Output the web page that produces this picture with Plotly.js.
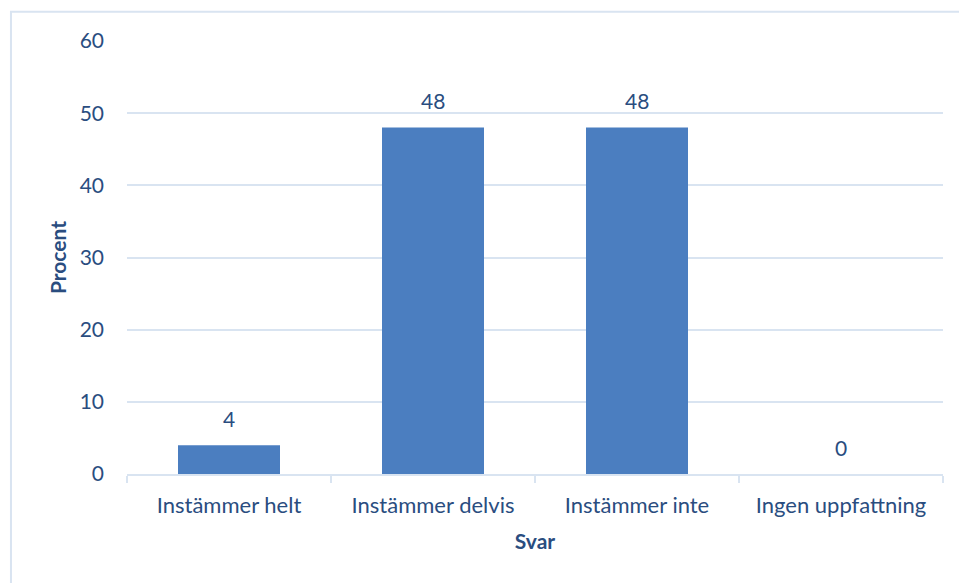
<!DOCTYPE html>
<html>
<head>
<meta charset="utf-8">
<script src="https://cdn.plot.ly/plotly-3.0.1.min.js"></script>
<style>
  html, body { margin: 0; padding: 0; background: #ffffff; }
  #chart { width: 959px; height: 583px; }
</style>
</head>
<body>
<div id="chart"></div>
<script>
const categories = ["Instämmer helt", "Instämmer delvis", "Instämmer inte", "Ingen uppfattning"];
const values = [4, 48, 48, 0];
const yTicks = [0, 10, 20, 30, 40, 50, 60];
const xTitle = "Svar";
const yTitle = "Procent";

const textColor = "#2a4d7f";
const gridColor = "#d9e4f1";
const fontFamily = "Lato, 'Noto Sans', sans-serif";
const fs = 21;
const fsCat = 22;

const trace = {
  type: "bar",
  x: categories,
  y: values,
  marker: { color: "#4b7ec0", line: { width: 0 } },
  hoverinfo: "x+y"
};

const annotations = categories.map((c, i) => ({
  x: c, y: values[i], xref: "x", yref: "y",
  text: String(values[i]), showarrow: false,
  yanchor: "middle", yshift: 27,
  font: { family: fontFamily, size: fs, color: textColor }
}));

const layout = {
  width: 959, height: 583,
  margin: { l: 127, r: 16, t: 41, b: 109 },
  paper_bgcolor: "#ffffff",
  plot_bgcolor: "#ffffff",
  bargap: 0.5,
  showlegend: false,
  font: { family: fontFamily, size: fs, color: textColor },
  xaxis: {
    type: "category",
    tickson: "boundaries",
    ticks: "outside", ticklen: 7, tickcolor: gridColor, tickwidth: 2,
    showline: true, linecolor: gridColor, linewidth: 2,
    showgrid: false, zeroline: false,
    ticklabelstandoff: 11,
    tickfont: { family: fontFamily, size: fsCat, color: textColor },
    title: { text: xTitle, standoff: 17, font: { family: fontFamily, size: fs, color: textColor, weight: "bold" } }
  },
  yaxis: {
    range: [0, 60],
    tickvals: yTicks,
    ticktext: yTicks.map(String),
    showgrid: true, gridcolor: gridColor, gridwidth: 2,
    zeroline: false, showline: false,
    ticks: "",
    ticklabelstandoff: 22,
    tickfont: { family: fontFamily, size: fs, color: textColor },
    title: { text: yTitle, standoff: 7, font: { family: fontFamily, size: fs, color: textColor, weight: "bold" } }
  },
  annotations: annotations,
  shapes: [{
    type: "rect", xref: "paper", yref: "paper",
    x0: -0.1422, x1: 1.1, y0: -0.3, y1: 1.0675,
    line: { color: "#d9e4f1", width: 2 }, fillcolor: "rgba(0,0,0,0)", layer: "below"
  }]
};

Plotly.newPlot("chart", [trace], layout, { displayModeBar: false, staticPlot: true });
</script>
</body>
</html>
